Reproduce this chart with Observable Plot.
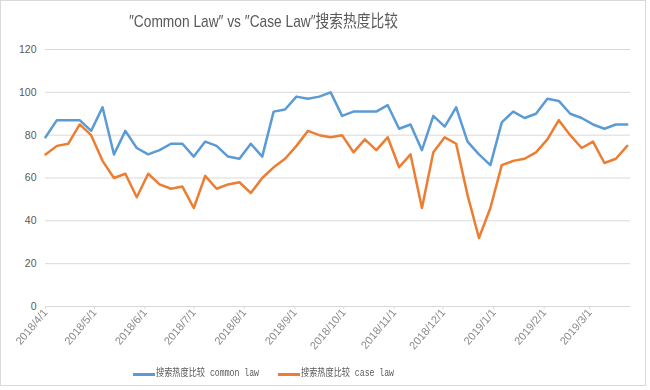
<!DOCTYPE html>
<html><head><meta charset="utf-8">
<script src="https://cdn.jsdelivr.net/npm/d3@7"></script>
<script src="https://cdn.jsdelivr.net/npm/@observablehq/plot@0.6"></script>
<style>
body{margin:0;background:#fff;}
#chart{position:absolute;left:0;top:0;width:646px;height:386px;border:1px solid #d9d9d9;box-sizing:border-box;background:#fff;}
#title{position:absolute;left:0;top:0;width:524px;height:40px;line-height:42px;text-align:center;color:#595959;font-size:17px;font-family:"Liberation Sans","Noto Sans CJK SC",sans-serif;white-space:nowrap;}
#title span{display:inline-block;transform-origin:center center;}
#plot{position:absolute;left:0;top:39px;}
#legend{position:absolute;left:0;top:360px;height:26px;width:644px;font-size:10px;color:#595959;font-family:"Liberation Mono","Noto Sans CJK SC",monospace;}
.item{position:absolute;top:0;height:26px;line-height:26px;white-space:nowrap;}
.sw{display:inline-block;width:22px;height:3px;vertical-align:middle;margin-right:1px;}
.lt{display:inline-block;transform-origin:left center;vertical-align:middle;}
</style></head>
<body>
<div id="chart">
  <div id="title"><span id="tspan"></span></div>
  <div id="plot"></div>
  <div id="legend"></div>
</div>
<script>
const titleText = "\u2033Common Law\u2033 vs \u2033Case Law\u2033搜索热度比较";
const dates = ["2018-04-01","2018-04-08","2018-04-15","2018-04-22","2018-04-29","2018-05-06","2018-05-13","2018-05-20","2018-05-27","2018-06-03","2018-06-10","2018-06-17","2018-06-24","2018-07-01","2018-07-08","2018-07-15","2018-07-22","2018-07-29","2018-08-05","2018-08-12","2018-08-19","2018-08-26","2018-09-02","2018-09-09","2018-09-16","2018-09-23","2018-09-30","2018-10-07","2018-10-14","2018-10-21","2018-10-28","2018-11-04","2018-11-11","2018-11-18","2018-11-25","2018-12-02","2018-12-09","2018-12-16","2018-12-23","2018-12-30","2019-01-06","2019-01-13","2019-01-20","2019-01-27","2019-02-03","2019-02-10","2019-02-17","2019-02-24","2019-03-03","2019-03-10","2019-03-17","2019-03-24"];
const commonLaw = [79,87,87,87,82,93,71,82,74,71,73,76,76,70,77,75,70,69,76,70,91,92,98,97,98,100,89,91,91,91,94,83,85,73,89,84,93,77,71,66,86,91,88,90,97,96,90,88,85,83,85,85];
const caseLaw = [71,75,76,85,80,68,60,62,51,62,57,55,56,46,61,55,57,58,53,60,65,69,75,82,80,79,80,72,78,73,79,65,71,46,72,79,76,52,32,46,66,68,69,72,78,87,80,74,77,67,69,75];
const monthTicks = ["2018-04-01","2018-05-01","2018-06-01","2018-07-01","2018-08-01","2018-09-01","2018-10-01","2018-11-01","2018-12-01","2019-01-01","2019-02-01","2019-03-01"];
const yTicks = [0,20,40,60,80,100,120];
const seriesNames = ["搜索热度比较 common law","搜索热度比较 case law"];
const colors = ["#5B9BD5","#ED7D31"];

const parse = d3.utcParse("%Y-%m-%d");
const data = dates.flatMap((d,i)=>[
  {date:parse(d), value:commonLaw[i], series:seriesNames[0]},
  {date:parse(d), value:caseLaw[i], series:seriesNames[1]}
]);

const chart = Plot.plot({
  width: 644, height: 321,
  marginTop: 9, marginBottom: 55, marginLeft: 44, marginRight: 15,
  style: {fontFamily: "'Liberation Sans', Arial, sans-serif", fontSize: "10px", color: "#595959", background: "#fff", overflow: "visible"},
  x: {type: "utc", domain: [parse("2018-04-01"), parse("2019-03-26")]},
  y: {domain: [0, 120]},
  color: {domain: seriesNames, range: colors},
  marks: [
    Plot.gridY(yTicks.filter(v => v > 0), {stroke: "#d9d9d9", strokeOpacity: 1, strokeWidth: 1}),
    Plot.ruleY([0], {stroke: "#d9d9d9", strokeWidth: 1}),
    Plot.axisY(yTicks, {tickSize: 0, tickPadding: 9, label: null, fill: "#595959", fontSize: 10.5}),
    Plot.axisX(monthTicks.map(parse), {tickSize: 3, tickPadding: 1, tickRotate: -50, tickFormat: d3.utcFormat("%Y/%-m/%-d"), stroke: "#d9d9d9", fill: "#8a8a8a", fontSize: 11, label: null}),
    Plot.lineY(data, {x: "date", y: "value", stroke: "series", strokeWidth: 2.5, strokeLinejoin: "round"})
  ]
});
document.getElementById("plot").appendChild(chart);

// grayscale filter for rotated tick labels (avoid colour fringes)
const ns = "http://www.w3.org/2000/svg";
const defs = document.createElementNS(ns, "defs");
const filt = document.createElementNS(ns, "filter");
filt.setAttribute("id", "gs");
const cm = document.createElementNS(ns, "feColorMatrix");
cm.setAttribute("type", "saturate");
cm.setAttribute("values", "0");
filt.appendChild(cm);
defs.appendChild(filt);
chart.insertBefore(defs, chart.firstChild);
chart.querySelectorAll('g[aria-label="x-axis tick label"]').forEach(g => g.setAttribute("filter", "url(#gs)"));

// title
const ts = document.getElementById("tspan");
ts.textContent = titleText;
const tw = ts.getBoundingClientRect().width;
ts.style.transform = `scale(${269 / tw}, 1)`;

// legend
const legend = document.getElementById("legend");
const lefts = [132, 277];
const widths = [103, 93];
seriesNames.forEach((name, i) => {
  const item = document.createElement("div");
  item.className = "item";
  item.style.left = lefts[i] + "px";
  const sw = document.createElement("span");
  sw.className = "sw";
  sw.style.background = colors[i];
  const lt = document.createElement("span");
  lt.className = "lt";
  lt.textContent = name;
  item.appendChild(sw);
  item.appendChild(lt);
  legend.appendChild(item);
  const w = lt.getBoundingClientRect().width;
  lt.style.transform = `scale(${widths[i] / w}, 1)`;
});
</script>
</body></html>
